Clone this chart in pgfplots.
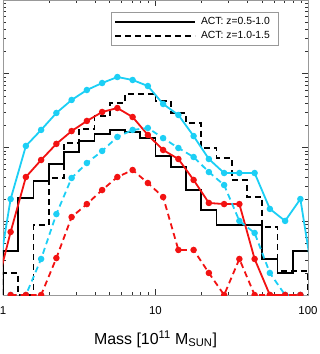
\documentclass[border=0pt]{standalone}
\usepackage{fontspec}
\setmainfont{Liberation Sans}
\usepackage{pgfplots}
\pgfplotsset{compat=1.18}
\usetikzlibrary{calc}
\definecolor{SkyCyan}{HTML}{1CCFF5}
\definecolor{PlotRed}{HTML}{F21212}

\begin{document}
\begin{tikzpicture}
\begin{axis}[
  scale only axis,
  width=305bp, height=295bp,
  xmode=log, ymode=log,
  xmin=1, xmax=100, ymin=1, ymax=1e4,
  xtick={1,10,100}, xticklabels={1,10,100},
  yticklabel={\mbox{}},
  tick align=inside,
  major tick length=6bp, minor tick length=3bp,
  axis line style={gray!80, line width=0.8bp},
  every tick/.style={black!80, line width=0.5bp},
  xticklabel style={font=\fontsize{11.5}{13}\selectfont, yshift=-8bp},
  xlabel={Mass [10\textsuperscript{11} M\textsubscript{SUN}]},
  xlabel style={font=\fontsize{16}{18}\selectfont, yshift=-9bp},
  clip marker paths=true,
  legend style={at={(0.354,0.958)}, anchor=north west, draw=gray!80,
    line width=0.6bp, font=\fontsize{10.4}{12}\selectfont,
    inner xsep=3bp, inner ysep=3bp, row sep=1bp,
    nodes={inner xsep=5bp}},
  legend image code/.code={\draw[#1] (6bp,0bp) -- (86bp,0bp);},
  legend cell align=left,
]
% ACT z=0.5-1.0 histogram (left bin edges)
\addplot[black, line width=1.8bp, const plot mark left] coordinates {
  (1,1) (1,3.95) (1.259,20.7) (1.585,35.1) (1.995,59.7) (2.512,86.9)
  (3.162,122) (3.981,152) (5.012,173) (6.310,162) (7.943,134)
  (10,76.7) (12.59,54.4) (15.85,26.5) (19.95,14.2) (25.12,8.90)
  (31.62,8.90) (39.81,8.90) (50.12,3.08) (63.10,1.99) (79.43,3.95)
  (100,3.95)
};
\addlegendentry{ACT: z=0.5-1.0}
% ACT z=1.0-1.5 histogram
\addplot[black, line width=1.8bp, dash pattern=on 6bp off 4bp, const plot mark left] coordinates {
  (1,1) (1,1.99) (1.259,1) (1.585,8.90) (1.995,38.6) (2.512,115)
  (3.162,178) (3.981,267) (5.012,401) (6.310,532) (7.943,532)
  (10,427) (12.59,294) (15.85,215) (19.95,98.5) (25.12,72.1)
  (31.62,36.3) (39.81,21.3) (50.12,8.36) (63.10,2.12) (79.43,2.12)
  (100,2.12) (100,1)
};
\addlegendentry{ACT: z=1.0-1.5}
% model curves
\addplot[SkyCyan, line width=1.8bp, mark=*, mark size=2.3bp, forget plot] coordinates {
  (0.8913,1.1) (1.122,20.0) (1.413,105) (1.778,173) (2.239,294) (2.818,441)
  (3.548,602) (4.467,749) (5.623,903) (7.079,823) (8.913,682)
  (11.22,389) (14.13,276) (17.78,143) (22.39,69.8) (28.18,45.1)
  (35.48,45.1) (44.67,45.1) (56.23,14.7) (70.79,10.1) (89.13,20.0)
  (112.2,1)
};
\addplot[PlotRed, line width=1.8bp, mark=*, mark size=2.3bp, forget plot] coordinates {
  (0.8913,1.1) (1.122,7.15) (1.413,39.8) (1.778,67.7) (2.239,112) (2.818,167)
  (3.548,229) (4.467,303) (5.623,343) (7.079,259) (8.913,148)
  (11.22,92.5) (14.13,69.8) (17.78,36.3) (22.39,17.7) (28.18,17.1)
  (35.48,17.1) (44.67,3.08) (56.23,1) (70.79,1) (89.13,1)
};
\addplot[SkyCyan, line width=1.8bp, dash pattern=on 6bp off 4bp, mark=*, mark size=2.3bp, mark options={solid}, forget plot] coordinates {
  (1.122,1) (1.413,1) (1.778,3.08) (2.239,12.5) (2.818,38.6)
  (3.548,61.6) (4.467,89.7) (5.623,139) (7.079,173) (8.913,184)
  (11.22,134) (14.13,98.5) (17.78,74.3) (22.39,46.5) (28.18,31.0)
  (35.48,10.1) (44.67,6.93) (56.23,1.99) (70.79,1) (89.13,1)
};
\addplot[PlotRed, line width=1.8bp, dash pattern=on 6bp off 4bp, mark=*, mark size=2.3bp, mark options={solid}, forget plot] coordinates {
  (1.122,1) (1.413,1) (1.778,1) (2.239,3.17) (2.818,11.4)
  (3.548,17.1) (4.467,26.5) (5.623,39.8) (7.079,49.5) (8.913,33.0)
  (11.22,21.3) (14.13,4.08) (17.78,4.08) (22.39,1.99) (28.18,1)
  (35.48,3.08) (44.67,1) (56.23,1) (70.79,1) (89.13,1)
};
\end{axis}
\pgfresetboundingbox
\path ($(current axis.south west)+(-3bp,-59bp)$) rectangle ($(current axis.north east)+(12bp,0bp)$);
\end{tikzpicture}
\end{document}
